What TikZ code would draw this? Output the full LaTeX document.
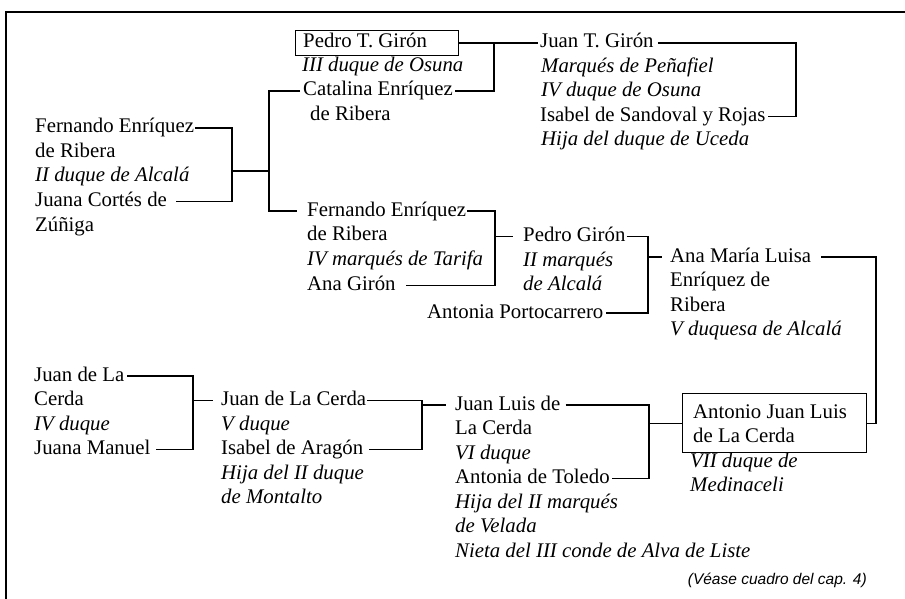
\documentclass[tikz,border=0pt]{standalone}
\usepackage{fontspec}
\setmainfont{Liberation Serif}
\newfontfamily\veasefont{Liberation Sans}
\begin{document}
\begin{tikzpicture}[x=1pt,y=-1pt,
  nm/.style={anchor=west, inner sep=0pt, text height=14pt, text depth=4pt, font=\fontsize{20.8}{24.5}\selectfont},
  ni/.style={nm, font=\fontsize{20.8}{24.5}\selectfont\itshape},
  ln/.style={line width=1.1pt},
  boxed/.style={draw, line width=1.1pt, inner sep=0pt, anchor=north west}]
\useasboundingbox (0,0) rectangle (905,599);
% frame
\draw[line width=1.6pt] (6,599) -- (6,12) -- (905,12);
% ---- bracket x positions
\coordinate (bA) at (232,0);
\coordinate (vV) at (269,0);
\coordinate (bP) at (494,0);
\coordinate (bJ) at (796,0);
\coordinate (bF) at (495,0);
\coordinate (bG) at (648,0);
\coordinate (bR) at (876,0);
\coordinate (b1) at (193,0);
\coordinate (b2) at (422,0);
\coordinate (b3) at (649,0);
\coordinate (sA) at (232,171);
% ---- block A
\node[nm] (a1) at (35,128) {Fernando Enríquez};
\node[nm] (a2) at (35,152.5) {de Ribera};
\node[ni] (a3) at (35,177) {II duque de Alcalá};
\node[nm] (a4) at (35,201.5) {Juana Cortés de};
\node[nm] (a5) at (35,226) {Zúñiga};
% ---- Pedro T. Girón
\node[boxed, minimum width=163pt, minimum height=25pt] (pbox) at (295,30) {};
\node[nm] (pt) at (303,42.5) {Pedro T. Girón};
\node[ni] (pd) at (302,66.5) {III duque de Osuna};
\node[nm] (c1) at (303,91) {Catalina Enríquez};
\node[nm] (c2) at (310,115.5) {de Ribera};
% ---- Juan T. Girón
\node[nm] (j1) at (540,43) {Juan T. Girón};
\node[ni] (j2) at (541,67.5) {Marqués de Peñafiel};
\node[ni] (j3) at (541,92) {IV duque de Osuna};
\node[nm] (j4) at (540,116.5) {Isabel de Sandoval y Rojas};
\node[ni] (j5) at (541,141) {Hija del duque de Uceda};
% ---- Fernando (IV marqués)
\node[nm] (f1) at (307,211) {Fernando Enríquez};
\node[nm] (f2) at (307,235.5) {de Ribera};
\node[ni] (f3) at (307,260) {IV marqués de Tarifa};
\node[nm] (f4) at (307,285.5) {Ana Girón};
% ---- Pedro Girón
\node[nm] (p1) at (523,236.5) {Pedro Girón};
\node[ni] (p2) at (523,261) {II marqués};
\node[ni] (p3) at (523,285.5) {de Alcalá};
\node[nm] (ap) at (427,313) {Antonia Portocarrero};
% ---- Ana María Luisa
\node[nm] (m1) at (670,257) {Ana María Luisa};
\node[nm] (m2) at (670,281.5) {Enríquez de};
\node[nm] (m3) at (670,306) {Ribera};
\node[ni] (m4) at (670,330.5) {V duquesa de Alcalá};
% ---- Juan de La Cerda (IV)
\node[nm] (l1) at (34,376) {Juan de La};
\node[nm] (l2) at (34,400.5) {Cerda};
\node[ni] (l3) at (34,425) {IV duque};
\node[nm] (l4) at (34,449.5) {Juana Manuel};
% ---- Juan de La Cerda (V)
\node[nm] (k1) at (221,400.5) {Juan de La Cerda};
\node[ni] (k2) at (221,425) {V duque};
\node[nm] (k3) at (221,449.5) {Isabel de Aragón};
\node[ni] (k4) at (221,474) {Hija del II duque};
\node[ni] (k5) at (221,498.5) {de Montalto};
% ---- Juan Luis de La Cerda (VI)
\node[nm] (u1) at (455,405) {Juan Luis de};
\node[nm] (u2) at (455,429.5) {La Cerda};
\node[ni] (u3) at (455,454) {VI duque};
\node[nm] (u4) at (455,478.5) {Antonia de Toledo};
\node[ni] (u5) at (455,503) {Hija del II marqués};
\node[ni] (u6) at (455,527.5) {de Velada};
\node[ni] (u7) at (455,552) {Nieta del III conde de Alva de Liste};
% ---- Antonio Juan Luis (VII)
\node[boxed, minimum width=184pt, minimum height=59pt] (abox) at (682,393) {};
\node[nm] (v1) at (693,413) {Antonio Juan Luis};
\node[nm] (v2) at (693,437.5) {de La Cerda};
\node[ni] (v3) at (690,462) {VII duque de};
\node[ni] (v4) at (690,486.5) {Medinaceli};
% ---- note
\node[anchor=east, inner sep=0pt, font=\veasefont\itshape\fontsize{15.5}{18}\selectfont] (note) at (867,580) {(Véase cuadro del cap. 4)};
% ---- connectors
\draw[ln] ([xshift=1pt]a1.east) -| (bA |- a4.east) -- ([xshift=9pt]a4.east);
\draw[ln] (sA) -- (sA -| vV);
\draw[ln] ([xshift=-3pt]c1.west) -| (vV |- f1.west) -- ([xshift=-10pt]f1.west);
\draw[ln] (pbox.east) -| (bP |- c1.east) -- ([xshift=2pt]c1.east);
\draw[ln] (bP |- j1.west) -- ([xshift=-2pt]j1.west);
\draw[ln] ([xshift=4pt]j1.east) -| (bJ |- j4.east) -- ([xshift=2pt]j4.east);
\draw[ln] ([xshift=1pt]f1.east) -| (bF |- f4.east) -- ([xshift=10pt]f4.east);
\draw[ln] (bF |- p1.west) -- ([xshift=-10pt]p1.west);
\draw[ln] ([xshift=1pt]p1.east) -| (bG |- ap.east) -- ([xshift=2pt]ap.east);
\draw[ln] (bG |- m1.west) -- ([xshift=-8pt]m1.west);
\draw[ln] ([xshift=10pt]m1.east) -| (bR |- abox.east) -- (abox.east);
\draw[ln] ([xshift=3pt]l1.east) -| (b1 |- l4.east) -- ([xshift=6pt]l4.east);
\draw[ln] (b1 |- k1.west) -- ([xshift=-8pt]k1.west);
\draw[ln] ([xshift=1pt]k1.east) -| (b2 |- k3.east) -- ([xshift=6pt]k3.east);
\draw[ln] (b2 |- u1.west) -- ([xshift=-9pt]u1.west);
\draw[ln] ([xshift=5pt]u1.east) -| (b3 |- u4.east) -- ([xshift=2pt]u4.east);
\draw[ln] (b3 |- abox.west) -- (abox.west);
\end{tikzpicture}
\end{document}
